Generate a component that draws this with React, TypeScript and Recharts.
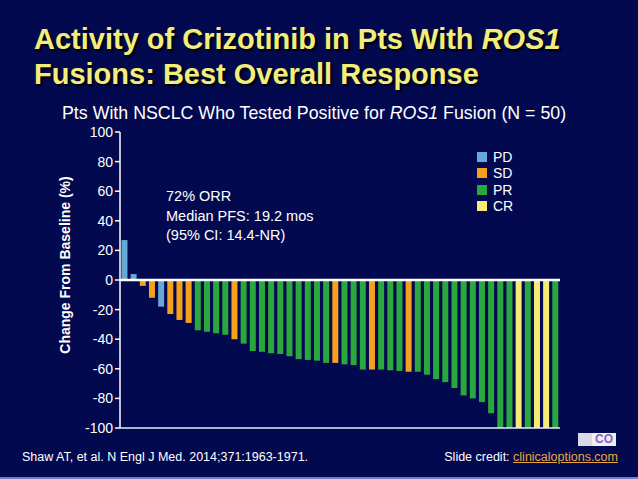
import React from "react";
import { BarChart, Bar, Cell, XAxis, YAxis, ReferenceLine } from "recharts";

// best % change from baseline, one entry per patient (sorted, as in the slide)
const changes = [
  27, 4, -4, -12, -18, -23, -27, -29, -34, -35, -36, -37, -40, -43, -48, -48.5,
  -49.5, -50, -51.5, -53.5, -54, -54.5, -56, -56, -57, -57.5, -60.5, -60.5,
  -60.5, -61, -61.5, -62, -62, -64, -67, -69, -73, -78, -80, -82.5, -90, -100,
  -100, -100, -100, -100, -100, -100,
];

const responses = [
  "PD", "PD", "SD", "SD", "PD", "SD", "SD", "SD", "PR", "PR", "PR", "PR", "SD",
  "PR", "PR", "PR", "PR", "PR", "PR", "PR", "PR", "PR", "PR", "SD", "PR", "PR",
  "PR", "SD", "PR", "PR", "PR", "SD", "PR", "PR", "PR", "PR", "PR", "PR", "PR",
  "PR", "PR", "PR", "PR", "CR", "PR", "CR", "CR", "PR",
];

const legendItems = ["PD", "SD", "PR", "CR"];
const yTicks = [100, 80, 60, 40, 20, 0, -20, -40, -60, -80, -100];

const COLORS: Record<string, string> = {
  PD: "#64a9d8",
  SD: "#f5a11f",
  PR: "#2aa83e",
  CR: "#f4ec72",
};

const BG = "#03094f";
const FONT = "'Liberation Sans', Arial, sans-serif";

const data = changes.map((v, i) => ({ id: i + 1, value: v, resp: responses[i] }));

export default function App() {
  return (
    <div
      style={{
        position: "absolute",
        left: 0,
        top: 0,
        width: 638,
        height: 479,
        background: BG,
        fontFamily: FONT,
        color: "#fff",
        overflow: "hidden",
      }}
    >
      <div
        style={{
          position: "absolute",
          left: 34,
          top: 22,
          fontSize: 29,
          fontWeight: "bold",
          lineHeight: "35px",
          color: "#f3ee7c",
          textShadow: "2px 2px 2px #000",
          whiteSpace: "nowrap",
        }}
      >
        Activity of Crizotinib in Pts With <i>ROS1</i>
        <br />
        Fusions: Best Overall Response
      </div>

      <div
        style={{ position: "absolute", left: 62, top: 103, fontSize: 17.8, whiteSpace: "nowrap" }}
      >
        Pts With NSCLC Who Tested Positive for <i>ROS1</i> Fusion (N = 50)
      </div>

      <BarChart
        width={638}
        height={479}
        data={data}
        margin={{ top: 132, right: 78, bottom: 51, left: 60 }}
        barCategoryGap="16%"
        style={{ position: "absolute", left: 0, top: 0, fontFamily: FONT }}
      >
        <XAxis dataKey="id" hide />
        <YAxis
          type="number"
          domain={[-100, 100]}
          ticks={yTicks}
          width={60}
          stroke="#fff"
          axisLine={{ stroke: "#fff", strokeWidth: 1.5 }}
          tickLine={{ stroke: "#fff", strokeWidth: 1.5 }}
          tickSize={5}
          tick={{ fill: "#fff", fontSize: 14 }}
          interval={0}
        />
        <Bar dataKey="value" isAnimationActive={false}>
          {data.map((d) => (
            <Cell key={d.id} fill={COLORS[d.resp]} />
          ))}
        </Bar>
        <ReferenceLine y={0} stroke="#fff" strokeWidth={2.5} />
        <ReferenceLine y={-100} stroke="#e8ecf8" strokeWidth={1.5} />
      </BarChart>

      <div
        style={{
          position: "absolute",
          left: 65,
          top: 265,
          transform: "translate(-50%, -50%) rotate(-90deg)",
          fontSize: 14,
          fontWeight: "bold",
          whiteSpace: "nowrap",
        }}
      >
        Change From Baseline (%)
      </div>

      <div
        style={{
          position: "absolute",
          left: 166,
          top: 187,
          fontSize: 14.5,
          lineHeight: "19.5px",
          whiteSpace: "nowrap",
        }}
      >
        72% ORR
        <br />
        Median PFS: 19.2 mos
        <br />
        (95% CI: 14.4-NR)
      </div>

      <div style={{ position: "absolute", left: 477, top: 149 }}>
        {legendItems.map((k) => (
          <div key={k} style={{ display: "flex", alignItems: "center", height: 16.3, fontSize: 14 }}>
            <span
              style={{ width: 10, height: 10, background: COLORS[k], display: "inline-block", marginRight: 6 }}
            />
            {k}
          </div>
        ))}
      </div>

      <div style={{ position: "absolute", left: 22, top: 450, fontSize: 12.5, whiteSpace: "nowrap" }}>
        Shaw AT, et al. N Engl J Med. 2014;371:1963-1971.
      </div>
      <div
        style={{ position: "absolute", right: 20, top: 450, fontSize: 12.5, whiteSpace: "nowrap" }}
      >
        Slide credit:{" "}
        <span style={{ color: "#e9a640", textDecoration: "underline" }}>clinicaloptions.com</span>
      </div>

      <div style={{ position: "absolute", left: 578, top: 432, display: "flex", alignItems: "center", height: 14 }}>
        <span style={{ width: 14, height: 13, background: "#d8d8e8", display: "inline-block" }} />
        <span style={{ width: 24, height: 13, background: "#eee", color: "#8a5cc8", fontSize: 12, fontWeight: "bold", lineHeight: "13px", textAlign: "center" }}>
          CO
        </span>
      </div>

      <div style={{ position: "absolute", left: 0, bottom: 0, width: 638, height: 2, background: "#7080c8" }} />
    </div>
  );
}
